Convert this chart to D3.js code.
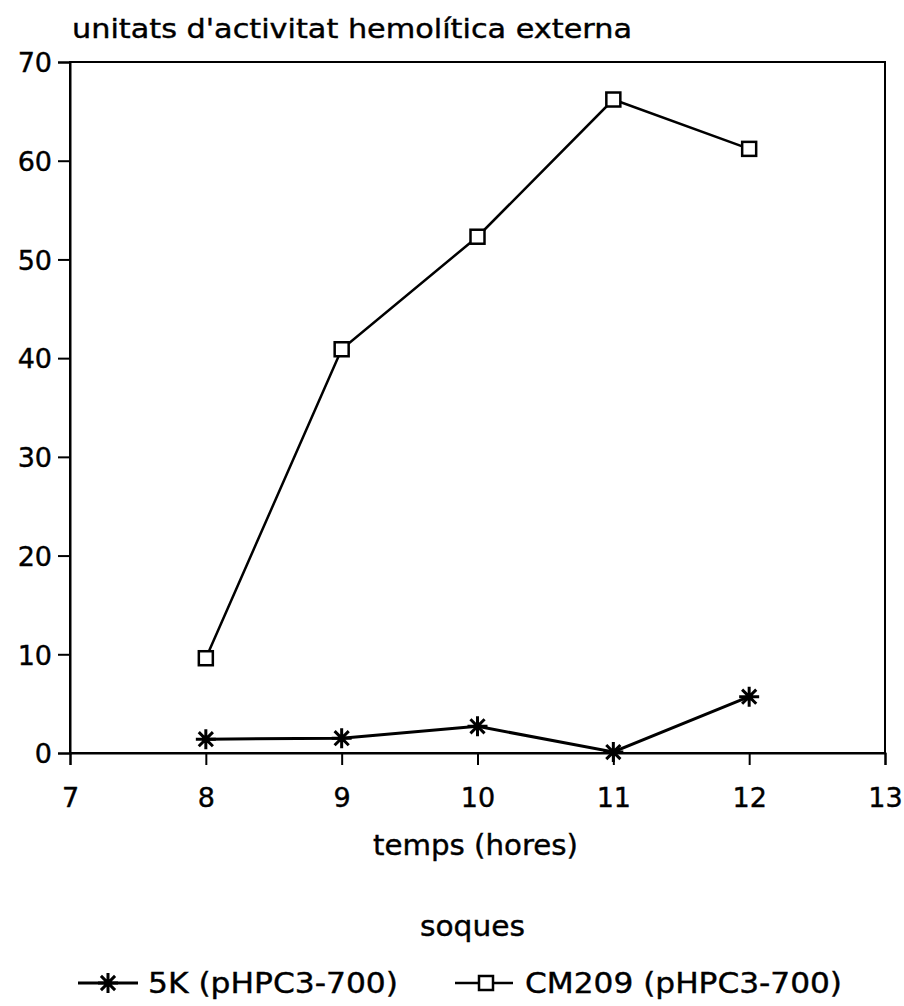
<!DOCTYPE html>
<html>
<head>
<meta charset="utf-8">
<script src="https://cdn.jsdelivr.net/npm/d3@7"></script>
<style>
  body { margin: 0; background: #fff; }
  svg text { font-family: "DejaVu Sans", "Liberation Sans", sans-serif; fill: #000; stroke: #000; stroke-width: 0.4px; }
</style>
</head>
<body>
<div id="chart"></div>
<script>
// data
const hours = [8, 9, 10, 11, 12];
const serie5K = [1.4, 1.5, 2.7, 0.1, 5.7];
const serieCM209 = [9.6, 40.9, 52.3, 66.2, 61.2];
const seriesNames = ["5K (pHPC3-700)", "CM209 (pHPC3-700)"];
const xTicks = [7, 8, 9, 10, 11, 12, 13];
const yTicks = [0, 10, 20, 30, 40, 50, 60, 70];

const W = 904, H = 1006;
const margin = {top: 62, right: 19, bottom: 253, left: 70};
const width = W - margin.left - margin.right;
const height = H - margin.top - margin.bottom;

const svg = d3.select("#chart").append("svg")
    .attr("width", W)
    .attr("height", H);

const g = svg.append("g")
    .attr("transform", `translate(${margin.left},${margin.top})`);

const x = d3.scaleLinear().domain([7, 13]).range([0, width]);
const y = d3.scaleLinear().domain([0, 70]).range([height, 0]);

// cadre
g.append("rect")
    .attr("width", width)
    .attr("height", height)
    .attr("fill", "none")
    .attr("stroke", "#000")
    .attr("stroke-width", 2);

// axes
const xAxis = g.append("g")
    .attr("transform", `translate(0,${height})`)
    .call(d3.axisBottom(x).tickValues(xTicks).tickSize(12).tickPadding(23).tickFormat(d3.format("d")));
const yAxis = g.append("g")
    .call(d3.axisLeft(y).tickValues(yTicks).tickSize(12).tickPadding(6).tickFormat(d3.format("d")));

[xAxis, yAxis].forEach(a => {
  a.select(".domain").attr("stroke-width", 2);
  a.selectAll(".tick line").attr("stroke-width", 2);
  a.selectAll("text").style("font-size", "27px").attr("fill", "#000");
});
yAxis.selectAll("text").attr("dy", "0.36em");

// titres
svg.append("text")
    .attr("x", 72)
    .attr("y", 38)
    .style("font-size", "26px")
    .attr("textLength", 560)
    .attr("lengthAdjust", "spacingAndGlyphs")
    .text("unitats d'activitat hemolítica externa");

svg.append("text")
    .attr("x", 373)
    .attr("y", 855)
    .style("font-size", "28px")
    .attr("textLength", 205)
    .attr("lengthAdjust", "spacingAndGlyphs")
    .text("temps (hores)");

const line = d3.line()
    .x((d, i) => x(hours[i]))
    .y(d => y(d));

function starPath(s) {
  let p = "";
  for (let k = 0; k < 4; k++) {
    const a = k * Math.PI / 4;
    const dx = Math.cos(a) * s, dy = Math.sin(a) * s;
    p += `M${-dx},${-dy}L${dx},${dy}`;
  }
  return p;
}

function drawStar(sel, cx, cy, s) {
  sel.append("path")
      .attr("transform", `translate(${cx},${cy})`)
      .attr("d", starPath(s))
      .attr("stroke", "#000")
      .attr("stroke-width", 3);
}
function drawSquare(sel, cx, cy, s) {
  sel.append("rect")
      .attr("x", cx - s / 2)
      .attr("y", cy - s / 2)
      .attr("width", s)
      .attr("height", s)
      .attr("fill", "#fff")
      .attr("stroke", "#000")
      .attr("stroke-width", 2.5);
}

// courbes
g.append("path")
    .datum(serie5K)
    .attr("d", line)
    .attr("fill", "none")
    .attr("stroke", "#000")
    .attr("stroke-width", 3);

g.append("path")
    .datum(serieCM209)
    .attr("d", line)
    .attr("fill", "none")
    .attr("stroke", "#000")
    .attr("stroke-width", 2.5);

serie5K.forEach((v, i) => drawStar(g, x(hours[i]), y(v), 10));
serieCM209.forEach((v, i) => drawSquare(g, x(hours[i]), y(v), 14));

// legende
svg.append("text")
    .attr("x", 420)
    .attr("y", 936)
    .style("font-size", "28px")
    .attr("textLength", 105)
    .attr("lengthAdjust", "spacingAndGlyphs")
    .text("soques");

const legend = svg.append("g");
legend.append("line").attr("x1", 78).attr("x2", 138).attr("y1", 983).attr("y2", 983)
    .attr("stroke", "#000").attr("stroke-width", 3);
drawStar(legend, 108, 983, 10);
legend.append("text").attr("x", 148).attr("y", 993)
    .style("font-size", "28px")
    .attr("textLength", 250)
    .attr("lengthAdjust", "spacingAndGlyphs")
    .text(seriesNames[0]);

legend.append("line").attr("x1", 455).attr("x2", 513).attr("y1", 983).attr("y2", 983)
    .attr("stroke", "#000").attr("stroke-width", 2.5);
drawSquare(legend, 486, 983, 14);
legend.append("text").attr("x", 525).attr("y", 993)
    .style("font-size", "28px")
    .attr("textLength", 317)
    .attr("lengthAdjust", "spacingAndGlyphs")
    .text(seriesNames[1]);
</script>
</body>
</html>
